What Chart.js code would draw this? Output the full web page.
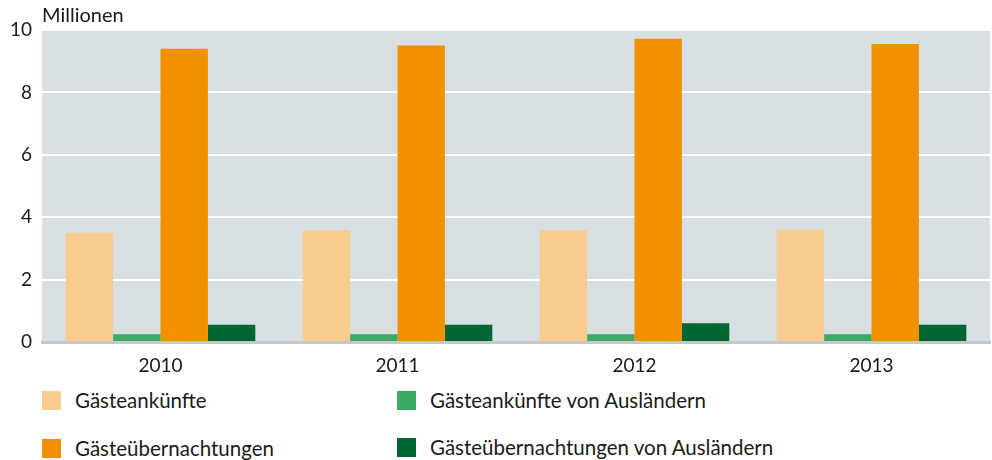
<!DOCTYPE html>
<html>
<head>
<meta charset="utf-8">
<script src="https://cdn.jsdelivr.net/npm/chart.js@4"></script>
<style>
  body { margin: 0; background: #fff; font-family: Lato, sans-serif; }
  #wrap { position: relative; width: 992px; height: 460px; }
  #box { position: absolute; left: 0; top: 0; width: 992px; height: 372px; }
  .leg { position: absolute; font-size: 20.5px; color: #1a1a1a; line-height: 20px; }
  .leg span { position: absolute; left: 0; top: 0; width: 19px; height: 19px; }
  .leg b { font-weight: normal; position: absolute; left: 33px; top: -1px; white-space: nowrap; }
</style>
</head>
<body>
<div id="wrap">
  <div id="box"><canvas id="myChart"></canvas></div>
  <div id="legend"></div>
</div>
<script>
const years = ['2010', '2011', '2012', '2013'];
const ankuenfte = [3.5, 3.58, 3.58, 3.6];
const ankuenfteAusl = [0.25, 0.25, 0.25, 0.25];
const uebernachtungen = [9.4, 9.5, 9.72, 9.55];
const uebernachtungenAusl = [0.55, 0.55, 0.6, 0.55];
const yTicks = [0, 2, 4, 6, 8, 10];

const seriesNames = ['Gästeankünfte', 'Gästeankünfte von Ausländern', 'Gästeübernachtungen', 'Gästeübernachtungen von Ausländern'];
const colors = ['#f9cb8f', '#3aaa64', '#f29100', '#006633'];
const allData = [ankuenfte, ankuenfteAusl, uebernachtungen, uebernachtungenAusl];

// legend, 2 columns
const legendPos = [[42, 391], [397, 391], [42, 439], [397, 438]];
const legend = document.querySelector('#legend');
seriesNames.forEach((name, i) => {
    const d = document.createElement('div');
    d.className = 'leg';
    d.style.left = legendPos[i][0] + 'px';
    d.style.top = legendPos[i][1] + 'px';
    d.innerHTML = '<span style="background:' + colors[i] + '"></span><b>' + name + '</b>';
    legend.appendChild(d);
});

const plotBg = {
    id: 'plotBg',
    beforeDraw(chart) {
        const { ctx, chartArea: a } = chart;
        ctx.save();
        ctx.fillStyle = '#d8dfe2';
        ctx.fillRect(a.left, a.top, a.right - a.left, a.bottom - a.top);
        ctx.restore();
    },
    afterDraw(chart) {
        const ctx = chart.ctx;
        ctx.save();
        ctx.font = '20px Lato, sans-serif';
        ctx.fillStyle = '#1a1a1a';
        ctx.textBaseline = 'middle';
        ctx.fillText('Millionen', 42, 16);
        ctx.restore();
    }
};

let myChart = document.querySelector('#myChart').getContext('2d');
let chart = new Chart(myChart, {
    type: 'bar',
    data: {
        labels: years,
        datasets: allData.map((d, i) => ({
            label: seriesNames[i],
            data: d,
            backgroundColor: colors[i],
            categoryPercentage: 0.8,
            barPercentage: 1.0
        }))
    },
    options: {
        responsive: true,
        maintainAspectRatio: false,
        animation: false,
        layout: { padding: { top: 30, right: 2, left: 0, bottom: 0 } },
        plugins: { legend: { display: false }, tooltip: { enabled: false } },
        scales: {
            x: {
                grid: { display: false },
                border: { display: true, color: '#c8c8c8', width: 3 },
                ticks: { color: '#1a1a1a', font: { family: 'Lato', size: 19 }, padding: 4 },
                afterFit(s) { s.height = 30; }
            },
            y: {
                min: 0, max: 10,
                afterBuildTicks(s) { s.ticks = yTicks.map(v => ({ value: v })); },
                grid: {
                    color: c => c.tick && c.tick.value === 0 ? 'rgba(0,0,0,0)' : '#ffffff',
                    lineWidth: 2,
                    drawTicks: false
                },
                border: { display: false },
                ticks: { color: '#1a1a1a', font: { family: 'Lato', size: 19 }, padding: 10 },
                afterFit(s) { s.width = 42; }
            }
        }
    },
    plugins: [plotBg]
});
</script>
</body>
</html>
